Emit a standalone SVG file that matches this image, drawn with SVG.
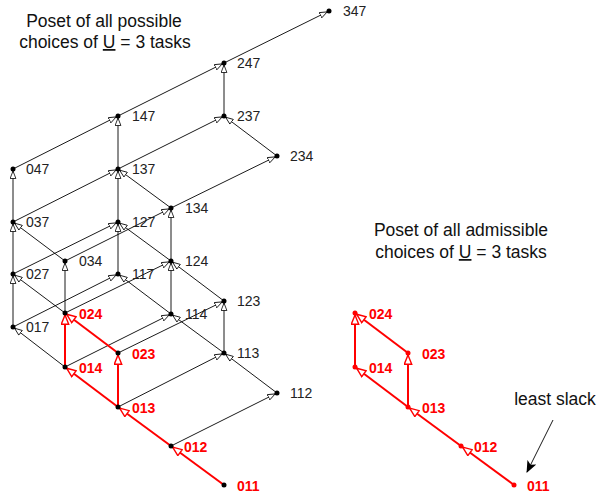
<svg xmlns="http://www.w3.org/2000/svg" width="607" height="500" viewBox="0 0 607 500">
<style>
.e{stroke:#000;stroke-width:0.9;fill:none;marker-end:url(#ab)}
.r{stroke:#f00;stroke-width:2;fill:none;marker-end:url(#ar)}
.d{fill:#000}
.dr{fill:#f00}
.l{font-family:"Liberation Sans",Arial,sans-serif;font-size:14px;fill:#222}
.lr{font-family:"Liberation Sans",Arial,sans-serif;font-size:14px;font-weight:bold;fill:#f00}
.t{font-family:"Liberation Sans",Arial,sans-serif;font-size:17.5px;fill:#111;text-anchor:middle}
</style>
<defs>
<marker id="ab" viewBox="0 0 9 7" markerWidth="9" markerHeight="7" refX="10" refY="3.5" orient="auto" markerUnits="userSpaceOnUse">
<path d="M0.5,0.6 L8,3.5 L0.5,6.4 z" fill="#fff" stroke="#000" stroke-width="0.8"/>
</marker>
<marker id="ar" viewBox="0 0 11 9" markerWidth="11" markerHeight="9" refX="12" refY="4.5" orient="auto" markerUnits="userSpaceOnUse">
<path d="M0.8,0.8 L10,4.5 L0.8,8.2 z" fill="#fff" stroke="#f00" stroke-width="1.4"/>
</marker>
<marker id="ak" viewBox="0 0 12 10" markerWidth="12" markerHeight="10" refX="11" refY="5" orient="auto" markerUnits="userSpaceOnUse">
<path d="M0,0 L12,5 L0,10 L3,5 z" fill="#000"/>
</marker>
</defs>

<text class="t" x="104" y="27">Poset of all possible</text>
<text class="t" x="105" y="48">choices of <tspan style="text-decoration:underline">U</tspan> = 3 tasks</text>
<text class="t" x="461" y="236">Poset of all admissible</text>
<text class="t" x="461" y="258">choices of <tspan style="text-decoration:underline">U</tspan> = 3 tasks</text>
<text class="t" x="555" y="405">least slack</text>

<g id="connectors">
<line class="e" x1="171" y1="446" x2="277" y2="393"/>
<line class="e" x1="277" y1="393" x2="224" y2="353"/>
<line class="e" x1="118" y1="407" x2="224" y2="353"/>
<line class="e" x1="65" y1="367" x2="171" y2="314"/>
<line class="e" x1="224" y1="353" x2="171" y2="314"/>
<line class="e" x1="224" y1="353" x2="224" y2="301"/>
<line class="e" x1="171" y1="314" x2="118" y2="274"/>
<line class="e" x1="13" y1="327" x2="118" y2="274"/>
<line class="e" x1="171" y1="314" x2="171" y2="261"/>
<line class="e" x1="224" y1="301" x2="171" y2="261"/>
<line class="e" x1="118" y1="353" x2="224" y2="301"/>
<line class="e" x1="65" y1="313" x2="171" y2="261"/>
<line class="e" x1="171" y1="261" x2="118" y2="222"/>
<line class="e" x1="118" y1="274" x2="118" y2="222"/>
<line class="e" x1="13" y1="274" x2="118" y2="222"/>
<line class="e" x1="171" y1="261" x2="171" y2="208"/>
<line class="e" x1="65" y1="261" x2="171" y2="208"/>
<line class="e" x1="171" y1="208" x2="118" y2="169"/>
<line class="e" x1="118" y1="222" x2="118" y2="169"/>
<line class="e" x1="13" y1="222" x2="118" y2="169"/>
<line class="e" x1="118" y1="169" x2="118" y2="116"/>
<line class="e" x1="13" y1="169" x2="118" y2="116"/>
<line class="e" x1="171" y1="208" x2="277" y2="156"/>
<line class="e" x1="118" y1="169" x2="224" y2="116"/>
<line class="e" x1="277" y1="156" x2="224" y2="116"/>
<line class="e" x1="224" y1="116" x2="224" y2="63"/>
<line class="e" x1="118" y1="116" x2="224" y2="63"/>
<line class="e" x1="224" y1="63" x2="329" y2="11"/>
<line class="e" x1="65" y1="367" x2="13" y2="327"/>
<line class="e" x1="13" y1="327" x2="13" y2="274"/>
<line class="e" x1="65" y1="313" x2="13" y2="274"/>
<line class="e" x1="13" y1="274" x2="13" y2="222"/>
<line class="e" x1="65" y1="261" x2="13" y2="222"/>
<line class="e" x1="13" y1="222" x2="13" y2="169"/>
<line class="e" x1="65" y1="313" x2="65" y2="261"/>
<line class="r" x1="224" y1="485" x2="171" y2="446"/>
<line class="r" x1="171" y1="446" x2="118" y2="407"/>
<line class="r" x1="118" y1="407" x2="65" y2="367"/>
<line class="r" x1="118" y1="407" x2="118" y2="353"/>
<line class="r" x1="65" y1="367" x2="65" y2="313"/>
<line class="r" x1="118" y1="353" x2="65" y2="313"/>
<line class="r" x1="514" y1="485" x2="461" y2="446"/>
<line class="r" x1="461" y1="446" x2="408" y2="407"/>
<line class="r" x1="408" y1="407" x2="355" y2="367"/>
<line class="r" x1="408" y1="407" x2="408" y2="353"/>
<line class="r" x1="355" y1="367" x2="355" y2="313"/>
<line class="r" x1="408" y1="353" x2="355" y2="313"/>
<line x1="553" y1="420" x2="527" y2="472" stroke="#000" stroke-width="0.9" marker-end="url(#ak)"/>
</g>

<g id="n347"><circle class="d" cx="329" cy="11" r="2.5"/><text class="l" x="343" y="16">347</text></g>
<g id="n247"><circle class="d" cx="224" cy="63" r="2.5"/><text class="l" x="237" y="68">247</text></g>
<g id="n237"><circle class="d" cx="224" cy="116" r="2.5"/><text class="l" x="237" y="121">237</text></g>
<g id="n234"><circle class="d" cx="277" cy="156" r="2.5"/><text class="l" x="290" y="161">234</text></g>
<g id="n147"><circle class="d" cx="118" cy="116" r="2.5"/><text class="l" x="132" y="121">147</text></g>
<g id="n137"><circle class="d" cx="118" cy="169" r="2.5"/><text class="l" x="132" y="174">137</text></g>
<g id="n134"><circle class="d" cx="171" cy="208" r="2.5"/><text class="l" x="185" y="213">134</text></g>
<g id="n127"><circle class="d" cx="118" cy="222" r="2.5"/><text class="l" x="132" y="227">127</text></g>
<g id="n124"><circle class="d" cx="171" cy="261" r="2.5"/><text class="l" x="185" y="266">124</text></g>
<g id="n123"><circle class="d" cx="224" cy="301" r="2.5"/><text class="l" x="237" y="306">123</text></g>
<g id="n117"><circle class="d" cx="118" cy="274" r="2.5"/><text class="l" x="132" y="279">117</text></g>
<g id="n114"><circle class="d" cx="171" cy="314" r="2.5"/><text class="l" x="185" y="319">114</text></g>
<g id="n113"><circle class="d" cx="224" cy="353" r="2.5"/><text class="l" x="237" y="358">113</text></g>
<g id="n112"><circle class="d" cx="277" cy="393" r="2.5"/><text class="l" x="290" y="398">112</text></g>
<g id="n047"><circle class="d" cx="13" cy="169" r="2.5"/><text class="l" x="26" y="174">047</text></g>
<g id="n037"><circle class="d" cx="13" cy="222" r="2.5"/><text class="l" x="26" y="227">037</text></g>
<g id="n034"><circle class="d" cx="65" cy="261" r="2.5"/><text class="l" x="79" y="266">034</text></g>
<g id="n027"><circle class="d" cx="13" cy="274" r="2.5"/><text class="l" x="26" y="279">027</text></g>
<g id="n017"><circle class="d" cx="13" cy="327" r="2.5"/><text class="l" x="26" y="332">017</text></g>
<g id="n024"><circle class="d" cx="65" cy="313" r="2.5"/><text class="lr" x="79" y="319">024</text></g>
<g id="n023"><circle class="d" cx="118" cy="353" r="2.5"/><text class="lr" x="132" y="359">023</text></g>
<g id="n014"><circle class="d" cx="65" cy="367" r="2.5"/><text class="lr" x="79" y="373">014</text></g>
<g id="n013"><circle class="d" cx="118" cy="407" r="2.5"/><text class="lr" x="132" y="413">013</text></g>
<g id="n012"><circle class="d" cx="171" cy="446" r="2.5"/><text class="lr" x="184" y="452">012</text></g>
<g id="n011"><circle class="d" cx="224" cy="485" r="2.5"/><text class="lr" x="237" y="491">011</text></g>
<g id="a024"><circle class="dr" cx="355" cy="313" r="2.5"/><text class="lr" x="369" y="319">024</text></g>
<g id="a023"><circle class="dr" cx="408" cy="353" r="2.5"/><text class="lr" x="422" y="359">023</text></g>
<g id="a014"><circle class="dr" cx="355" cy="367" r="2.5"/><text class="lr" x="369" y="373">014</text></g>
<g id="a013"><circle class="dr" cx="408" cy="407" r="2.5"/><text class="lr" x="422" y="413">013</text></g>
<g id="a012"><circle class="dr" cx="461" cy="446" r="2.5"/><text class="lr" x="474" y="452">012</text></g>
<g id="a011"><circle class="dr" cx="514" cy="485" r="2.5"/><text class="lr" x="527" y="491">011</text></g>
</svg>
